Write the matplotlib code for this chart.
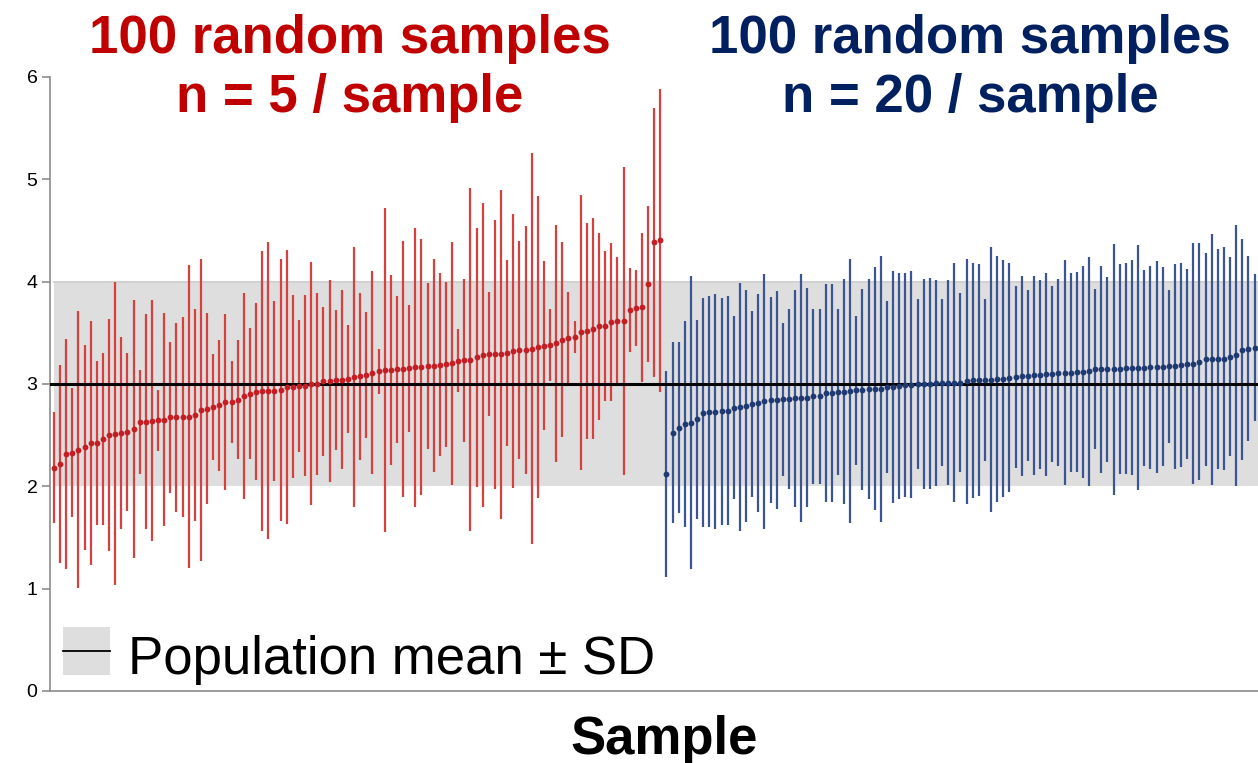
import matplotlib
matplotlib.use("Agg")
import matplotlib.pyplot as plt
from matplotlib.patches import Rectangle
from matplotlib.lines import Line2D
import numpy as np

plt.rcParams['font.family'] = ['Liberation Sans', 'DejaVu Sans']

# sample means and SDs, sorted by mean (n = 5 per sample)
red_mean = [2.183, 2.222, 2.316, 2.329, 2.359, 2.381, 2.421, 2.424, 2.460, 2.502,
            2.515, 2.521, 2.531, 2.561, 2.626, 2.632, 2.642, 2.645, 2.652, 2.674,
            2.674, 2.678, 2.681, 2.697, 2.746, 2.756, 2.779, 2.792, 2.824, 2.824,
            2.847, 2.883, 2.906, 2.925, 2.932, 2.935, 2.935, 2.941, 2.971, 2.974,
            2.980, 2.984, 3.003, 3.003, 3.026, 3.026, 3.042, 3.042, 3.049, 3.068,
            3.075, 3.085, 3.111, 3.124, 3.133, 3.137, 3.143, 3.150, 3.153, 3.163,
            3.166, 3.179, 3.179, 3.189, 3.192, 3.202, 3.228, 3.231, 3.238, 3.260,
            3.286, 3.290, 3.290, 3.290, 3.299, 3.322, 3.332, 3.332, 3.345, 3.361,
            3.374, 3.381, 3.397, 3.433, 3.452, 3.459, 3.505, 3.518, 3.540, 3.563,
            3.563, 3.605, 3.612, 3.615, 3.723, 3.742, 3.749, 3.977, 4.383, 4.403]
red_sd = [0.545, 0.968, 1.123, 0.627, 1.354, 1.004, 1.191, 0.802, 0.841, 1.130,
          1.484, 0.942, 0.771, 1.260, 0.509, 1.050, 1.178, 0.301, 1.038, 0.739,
          0.921, 0.975, 1.480, 1.034, 1.476, 0.933, 0.518, 0.638, 0.861, 0.405,
          0.583, 1.006, 0.638, 0.863, 1.370, 1.449, 0.879, 1.283, 1.335, 0.892,
          0.641, 0.884, 1.187, 0.889, 0.726, 0.988, 0.684, 0.877, 0.524, 1.266,
          0.817, 0.614, 0.994, 0.218, 1.584, 0.931, 0.721, 1.250, 0.622, 1.364,
          1.250, 0.812, 1.038, 0.895, 0.806, 1.188, 0.311, 0.796, 1.676, 1.268,
          1.486, 0.607, 1.315, 1.610, 0.908, 1.343, 1.066, 1.211, 1.908, 1.480,
          0.827, 0.356, 1.157, 0.954, 0.449, 0.161, 1.341, 1.055, 1.079, 0.915,
          0.734, 0.773, 0.630, 1.509, 0.409, 0.374, 0.731, 0.763, 1.313, 1.480]

# n = 20 per sample (last few run past the right edge)
blue_mean = [2.124, 2.525, 2.574, 2.609, 2.622, 2.655, 2.720, 2.730, 2.730, 2.733,
             2.740, 2.769, 2.775, 2.785, 2.805, 2.811, 2.831, 2.844, 2.847, 2.850,
             2.854, 2.860, 2.860, 2.867, 2.880, 2.880, 2.909, 2.912, 2.922, 2.925,
             2.932, 2.938, 2.945, 2.948, 2.954, 2.954, 2.967, 2.967, 2.984, 2.990,
             2.993, 3.000, 3.003, 3.003, 3.013, 3.013, 3.013, 3.013, 3.013, 3.026,
             3.036, 3.039, 3.042, 3.042, 3.049, 3.052, 3.062, 3.065, 3.078, 3.081,
             3.085, 3.091, 3.094, 3.098, 3.111, 3.111, 3.111, 3.117, 3.117, 3.124,
             3.143, 3.143, 3.143, 3.143, 3.146, 3.153, 3.159, 3.159, 3.159, 3.163,
             3.166, 3.169, 3.172, 3.172, 3.186, 3.195, 3.199, 3.218, 3.241, 3.241,
             3.244, 3.247, 3.264, 3.280, 3.335, 3.345, 3.355]
blue_sd = [1.006, 0.885, 0.837, 1.009, 1.432, 0.972, 1.120, 1.131, 1.147, 1.112,
           1.118, 0.892, 1.208, 1.134, 0.913, 1.066, 1.248, 1.003, 1.064, 0.747,
           0.876, 1.061, 1.213, 1.073, 0.856, 0.854, 1.066, 1.061, 0.811, 1.100,
           1.292, 0.729, 0.985, 1.074, 1.185, 1.300, 0.840, 1.134, 1.105, 1.092,
           1.112, 0.827, 1.027, 1.034, 1.006, 0.819, 1.004, 1.165, 0.872, 1.200,
           1.147, 1.134, 0.793, 1.297, 1.201, 1.156, 1.120, 0.889, 0.977, 0.837,
           0.972, 0.924, 0.990, 0.861, 0.915, 1.099, 0.972, 0.980, 1.040, 1.120,
           0.781, 1.014, 0.907, 1.229, 1.030, 1.034, 1.050, 1.198, 0.957, 0.994,
           1.032, 0.975, 0.744, 1.004, 0.998, 0.924, 1.175, 1.160, 1.042, 1.229,
           1.074, 1.087, 0.972, 1.273, 1.077, 0.902, 0.716]

pop_mean = 3
pop_sd = 1

x_red = np.arange(1, len(red_mean) + 1)
x_blue = np.arange(101, 101 + len(blue_mean))

fig = plt.figure(figsize=(12.58, 7.63), dpi=100)
ax = fig.add_axes([0.0397, 0.0944, 0.9603, 0.8047])

# population mean +/- SD band
ax.fill_between([1, 210], pop_mean - pop_sd, pop_mean + pop_sd, color='#dedede', lw=0, zorder=0)
ax.plot([1, 210], [pop_mean + pop_sd] * 2, color='#d2d2d2', lw=1.5, zorder=0.5)

ax.errorbar(x_red, red_mean, yerr=red_sd, fmt='none', ecolor='#d6403f', elinewidth=1.6, zorder=2)
ax.errorbar(x_blue, blue_mean, yerr=blue_sd, fmt='none', ecolor='#3a5592', elinewidth=1.6, zorder=2)
ax.plot([0.6, 210], [pop_mean] * 2, color='black', lw=2.2, zorder=3)
ax.plot(x_red, red_mean, 'o', ms=4.2, color='#c41e24', mec='none', zorder=4)
ax.plot(x_blue, blue_mean, 'o', ms=4.2, color='#1f3a72', mec='none', zorder=4)

ax.set_xlim(0.35, 197.57)
ax.set_ylim(0, 6)
ax.set_yticks(range(7))
ax.set_xticks([])
for s in ['top', 'right']:
    ax.spines[s].set_visible(False)
for s in ['left', 'bottom']:
    ax.spines[s].set_color('#8c8c8c')
    ax.spines[s].set_linewidth(1.2)
ax.tick_params(axis='y', length=6, width=1.2, color='#8c8c8c', labelsize=14, pad=3)

fig.text(0.278, 0.910, '100 random samples\nn = 5 / sample', color='#c00000',
         fontsize=38, fontweight='bold', ha='center', va='center', linespacing=1.22)
fig.text(0.771, 0.910, '100 random samples\nn = 20 / sample', color='#002060',
         fontsize=38, fontweight='bold', ha='center', va='center', linespacing=1.22)
fig.text(0.528, 0.030, 'Sample', fontsize=38, fontweight='bold', ha='center', va='center')

# legend key drawn by hand
fig.add_artist(Rectangle((0.0501, 0.1153), 0.0374, 0.0629, transform=fig.transFigure,
                         facecolor='#dedede', edgecolor='none'))
fig.add_artist(Line2D([0.0501, 0.0875], [0.1468, 0.1468], transform=fig.transFigure,
                      color='black', lw=1.3))
fig.text(0.1017, 0.135, 'Population mean \u00b1 SD', fontsize=38, ha='left', va='center')

fig.savefig('out.png', dpi=100)
